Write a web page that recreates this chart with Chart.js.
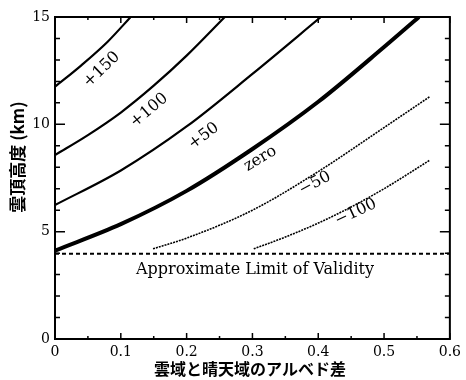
<!DOCTYPE html>
<html>
<head>
<meta charset="utf-8">
<script src="https://cdn.jsdelivr.net/npm/chart.js@4"></script>
<style>
  html, body { margin: 0; padding: 0; background: #fff; }
  #wrap { width: 466px; height: 380px; }
</style>
</head>
<body>
<div id="wrap"><canvas id="cloudChart" width="466" height="380"></canvas></div>
<script>
// albedo difference (x) and cloud-top height in km (y) for each contour
var p150X = [0, 0.04, 0.08, 0.115];
var p150Y = [11.75, 12.75, 13.85, 15];
var p100X = [0, 0.05, 0.1, 0.15, 0.2, 0.258];
var p100Y = [8.57, 9.5, 10.55, 11.8, 13.2, 15];
var p50X = [0, 0.1, 0.2, 0.3, 0.404];
var p50Y = [6.24, 7.85, 9.9, 12.35, 15];
var zeroX = [0, 0.1, 0.2, 0.3, 0.4, 0.5, 0.553];
var zeroY = [4.12, 5.35, 6.9, 8.85, 11.05, 13.6, 15];
var m50X = [0.149, 0.2, 0.3, 0.4, 0.5, 0.57];
var m50Y = [4.2, 4.7, 6.0, 7.8, 9.85, 11.3];
var m100X = [0.302, 0.35, 0.4, 0.45, 0.5, 0.57];
var m100Y = [4.2, 4.75, 5.4, 6.15, 7.0, 8.34];
var limitX = [0, 0.6];
var limitY = [3.97, 3.97];

var xTicks = [0, 0.1, 0.2, 0.3, 0.4, 0.5, 0.6];
var yTicks = [0, 5, 10, 15];

// contour labels: text, x, y (data units), angle in degrees
var curveLabels = [
  ['+150', 0.071, 12.55, -44],
  ['+100', 0.143, 10.65, -40],
  ['+50', 0.226, 9.45, -37],
  ['zero', 0.312, 8.4, -31],
  ['\u221250', 0.395, 7.25, -28],
  ['\u2212100', 0.457, 5.9, -25]
];

function pts(xs, ys) {
  return xs.map(function(v, i) { return {x: v, y: ys[i]}; });
}

function line(xs, ys, width, dash) {
  return {
    data: pts(xs, ys),
    borderColor: '#000',
    borderWidth: width,
    borderDash: dash || [],
    pointRadius: 0,
    fill: false,
    cubicInterpolationMode: 'monotone'
  };
}

var serif = '"DejaVu Serif", serif';
var jp = '"Noto Sans CJK JP", sans-serif';

var framePlugin = {
  id: 'frame',
  afterDraw: function(chart) {
    var c = chart.ctx;
    var a = chart.chartArea;
    var xs = chart.scales.x;
    var ys = chart.scales.y;
    c.save();
    c.strokeStyle = '#000';
    c.lineWidth = 2;
    c.strokeRect(a.left, a.top, a.right - a.left, a.bottom - a.top);

    // inward ticks on all four sides
    c.lineWidth = 1.5;
    for (var i = 0; i <= 12; i++) {
      var px = xs.getPixelForValue(i * 0.05);
      var len = i % 2 === 0 ? 6 : 3;
      c.beginPath();
      c.moveTo(px, a.bottom); c.lineTo(px, a.bottom - len);
      c.moveTo(px, a.top); c.lineTo(px, a.top + len);
      c.stroke();
    }
    for (var j = 0; j <= 15; j++) {
      var py = ys.getPixelForValue(j);
      var l2 = j % 5 === 0 ? 10 : 5;
      c.beginPath();
      c.moveTo(a.left, py); c.lineTo(a.left + l2, py);
      c.moveTo(a.right, py); c.lineTo(a.right - l2, py);
      c.stroke();
    }

    // contour labels
    c.fillStyle = '#000';
    c.font = '16px ' + serif;
    c.textAlign = 'center';
    c.textBaseline = 'middle';
    curveLabels.forEach(function(l) {
      c.save();
      c.translate(xs.getPixelForValue(l[1]), ys.getPixelForValue(l[2]));
      c.rotate(l[3] * Math.PI / 180);
      c.fillText(l[0], 0, 0);
      c.restore();
    });

    c.font = '16px ' + serif;
    c.fillText('Approximate Limit of Validity', xs.getPixelForValue(0.304), ys.getPixelForValue(3.2));

    // axis titles
    c.font = 'bold 16px ' + jp;
    c.fillText('\u96f2\u57df\u3068\u6674\u5929\u57df\u306e\u30a2\u30eb\u30d9\u30c9\u5dee', 250, 369);
    c.save();
    c.translate(18, 157);
    c.rotate(-Math.PI / 2);
    c.font = 'bold 17px ' + jp;
    c.fillText('\u96f2\u9802\u9ad8\u5ea6 (km)', 0, 0);
    c.restore();
    c.restore();
  }
};

var chart = new Chart(document.getElementById('cloudChart'), {
  type: 'line',
  data: {
    datasets: [
      line(p150X, p150Y, 2.2),
      line(p100X, p100Y, 2.2),
      line(p50X, p50Y, 2.2),
      line(zeroX, zeroY, 4),
      line(m50X, m50Y, 1.6, [2, 1]),
      line(m100X, m100Y, 1.6, [2, 1]),
      line(limitX, limitY, 2, [4, 3])
    ]
  },
  options: {
    responsive: false,
    animation: false,
    layout: { padding: { top: 17, right: 13, left: 0, bottom: 0 } },
    plugins: { legend: { display: false }, tooltip: { enabled: false } },
    scales: {
      x: {
        type: 'linear',
        min: 0,
        max: 0.6,
        afterBuildTicks: function(s) { s.ticks = xTicks.map(function(v) { return {value: v}; }); },
        afterFit: function(s) { s.height = 41; },
        grid: { display: false, drawTicks: false },
        border: { display: false },
        ticks: {
          color: '#000',
          font: { family: serif, size: 14 },
          padding: 5,
          maxRotation: 0,
          callback: function(v) { return v === 0 ? '0' : v.toFixed(1); }
        }
      },
      y: {
        min: 0,
        max: 15,
        afterBuildTicks: function(s) { s.ticks = yTicks.map(function(v) { return {value: v}; }); },
        afterFit: function(s) { s.width = 55; },
        grid: { display: false, drawTicks: false },
        border: { display: false },
        ticks: {
          color: '#000',
          font: { family: serif, size: 14 },
          padding: 5
        }
      }
    }
  },
  plugins: [framePlugin]
});
</script>
</body>
</html>
